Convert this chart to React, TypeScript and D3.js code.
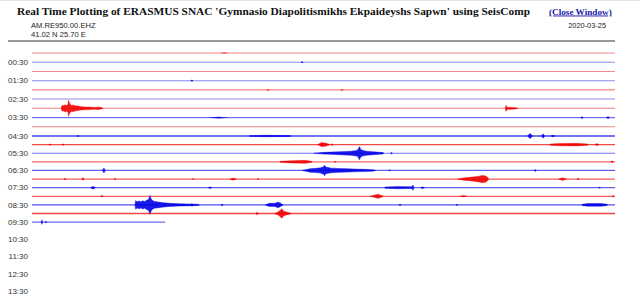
import React from "react";
import * as d3 from "d3";

// ---------- data ----------
const titleText =
  "Real Time Plotting of ERASMUS SNAC 'Gymnasio Diapolitismikhs Ekpaideyshs Sapwn' using SeisComp";
const closeText = "(Close Window)";
const stationCode = "AM.RE950.00.EHZ";
const stationCoords = "41.02 N 25.70 E";
const plotDate = "2020-03-25";

// hour labels and the half-hour row they sit on
const tickLabels = ["00:30", "01:30", "02:30", "03:30", "04:30", "05:30", "06:30", "07:30", "08:30", "09:30", "10:30", "11:30", "12:30", "13:30"];
const tickRows = [1, 3, 5, 7, 9, 11, 13, 15, 17, 19, 21, 23, 25, 27];

// 30-minute rows of data (row 0 = 00:00 ... row 19 = 09:30)
const rowMinutes = 30;
const rowEndMinute = [30, 30, 30, 30, 30, 30, 30, 30, 30, 30, 30, 30, 30, 30, 30, 30, 30, 30, 30, 6.85];
// background noise level per row (amplitude units)
const rowNoise = [0.7, 0.7, 0.7, 0.7, 0.75, 0.7, 0.8, 0.9, 0.75, 1.3, 1.25, 0.9, 1.0, 1.05, 1.1, 1.05, 1.05, 1.2, 1.3, 0.95];

// event envelopes per row: [minute, amplitude]
const rowEvents: [number, number][][][] = [
  [], [], [], [], [], [],
  [
    [[1.5, 0], [1.55, 3.2], [1.62, 2.6], [1.7, 3.8], [1.78, 3], [1.85, 4], [1.88, 8.5], [1.93, 5.5], [1.98, 4], [2.05, 3], [2.12, 3.6], [2.2, 2.8], [2.37, 2.4], [2.5, 1.8], [2.7, 1.5], [2.98, 1.3], [3.2, 0.9], [3.34, 1.1], [3.45, 1.3], [3.65, 0.3]],
    [[24.35, 0], [24.39, 3.2], [24.45, 1.2], [24.9, 0.6], [25.0, 0]],
  ],
  [],
  [],
  [[[11.2, 0.4], [12.0, 0.8], [13.3, 0.4]]],
  [
    [[14.7, 0], [14.9, 2.2], [15.1, 1.6], [15.3, 0.4]],
    [[26.66, 0.6], [27.2, 1.3], [28.0, 1.4], [28.6, 0.6]],
  ],
  [[[14.5, 0], [15.0, 0.9], [15.33, 1.2], [15.8, 1.5], [16.1, 1.8], [16.4, 2.2], [16.6, 2.6], [16.75, 3.2], [16.85, 7], [16.92, 4], [17.0, 3], [17.2, 2.2], [17.4, 1.8], [17.9, 1], [18.1, 0.4]]],
  [[[12.76, 0.5], [13.3, 1.1], [14.05, 1.6], [14.4, 0.5]]],
  [[[13.9, 0], [14.3, 1.8], [14.6, 2.2], [14.85, 2.8], [15.0, 4], [15.05, 5.5], [15.12, 3.6], [15.25, 3], [15.4, 2.4], [15.85, 2], [16.3, 1.7], [16.6, 1.4], [17.1, 1.2], [17.55, 0.8], [17.7, 0]]],
  [[[21.9, 0], [22.2, 1.2], [22.54, 1.8], [22.8, 2.5], [23.0, 3], [23.16, 3.8], [23.36, 3.2], [23.45, 1.6], [23.5, 0]]],
  [[[18.16, 0.6], [18.8, 1.1], [19.55, 1], [19.6, 2.8], [19.65, 0.6]]],
  [[[17.4, 0], [17.8, 2.2], [18.06, 0.4]]],
  [
    [[5.3, 0], [5.33, 4.5], [5.42, 3.2], [5.5, 4], [5.62, 3.4], [5.7, 4.4], [5.8, 3.6], [5.9, 4.8], [6.0, 6], [6.07, 10], [6.13, 6.5], [6.2, 4.5], [6.3, 3.6], [6.43, 3.2], [6.7, 2.4], [7.1, 1.6], [7.6, 1.2], [8.4, 0.8], [8.6, 0.4]],
    [[12.0, 0], [12.2, 1.6], [12.5, 1.8], [12.66, 3], [12.8, 1.6], [12.9, 0.4]],
    [[28.3, 0.6], [28.6, 1.5], [29.3, 1.4], [29.6, 0.6]],
  ],
  [[[12.5, 0], [12.7, 2], [12.86, 5], [12.95, 2.4], [13.3, 0.4]]],
  [],
];

// short blips per row: [minute, amplitude, duration in minutes]
const rowBlips: [number, number, number][][] = [
  [[9.9, 0.5, 0.5]],
  [[13.9, 1, 0.15]],
  [],
  [[8.23, 1.1, 0.15]],
  [[12.14, 1, 0.15], [15.95, 0.9, 0.15]],
  [],
  [],
  [[9.6, 0.9, 1.1], [28.3, 1.4, 0.15], [29.64, 1.4, 0.2]],
  [],
  [[2.37, 1.1, 0.15], [25.63, 3.2, 0.3], [26.3, 2.6, 0.2], [26.8, 1.4, 0.25]],
  [[0.93, 1.3, 0.15], [1.6, 1.3, 0.15], [15.44, 1.4, 0.12], [29.07, 1.5, 0.25]],
  [[18.0, 1.3, 0.12], [18.5, 1.3, 0.12]],
  [[15.6, 0.9, 0.15], [29.85, 1.3, 0.15]],
  [[3.7, 3, 0.2], [18.4, 0.9, 0.15], [25.9, 1.3, 0.15]],
  [[1.7, 1.3, 0.12], [2.62, 1.8, 0.15], [4.27, 1.3, 0.12], [8.29, 1.1, 0.12], [10.35, 1.5, 0.4], [11.63, 1.1, 0.12], [27.3, 1.7, 0.5], [28.1, 1.1, 0.15]],
  [[3.14, 1.8, 0.3], [9.16, 1.1, 0.25], [20.1, 1.3, 0.25], [29.2, 0.9, 0.15]],
  [[3.6, 1.3, 0.15], [22.2, 1, 0.5], [29.9, 1.3, 0.12]],
  [[8.23, 1.8, 0.15], [9.78, 1.3, 0.15], [18.94, 1.1, 0.15], [21.87, 1.3, 0.12]],
  [[11.58, 1.8, 0.15]],
  [[0.51, 3, 0.12], [0.72, 1.3, 0.12]],
];

// ---------- layout ----------
const W = 640;
const H = 301;
const RED = "#f00000";
const BLUE = "#0000e6";

const x = d3.scaleLinear().domain([0, rowMinutes]).range([32, 615]);
const rowY = d3.scaleLinear().domain([0, 9, 27]).range([53, 136, 291]);
const amp = d3.scaleLinear().domain([0, 10]).range([0, 9.5]);

export default function App() {
  const area = (base: number) =>
    d3
      .area<[number, number]>()
      .x((d) => x(d[0]))
      .y0((d) => base - amp(d[1]))
      .y1((d) => base + amp(d[1]))
      .curve(d3.curveLinear);

  const line = d3
    .line<number>()
    .x((d) => x(d))
    .y(() => 0);

  return (
    <svg
      width={W}
      height={H}
      style={{ position: "absolute", left: 0, top: 0, background: "#fff" }}
      xmlns="http://www.w3.org/2000/svg"
    >
      <rect x={0} y={0} width={W} height={H} fill="#fff" />
      <line x1={0} x2={W} y1={0.5} y2={0.5} stroke="#e4e4e4" />
      {/* header */}
      <text
        x={17}
        y={15}
        fontFamily="'Liberation Serif', 'Times New Roman', serif"
        fontWeight="bold"
        fontSize={11.2}
        fill="#111"
        textLength={513}
        lengthAdjust="spacingAndGlyphs"
      >
        {titleText}
      </text>
      <text
        x={549}
        y={14.5}
        fontFamily="'Liberation Serif', 'Times New Roman', serif"
        fontWeight="bold"
        fontSize={9.2}
        fill="#1a1aa6"
        textDecoration="underline"
      >
        {closeText}
      </text>
      <text x={31} y={27.5} fontFamily="Arial, 'Liberation Sans', sans-serif" fontSize={7.6} fill="#222">
        {stationCode}
      </text>
      <text x={31} y={37} fontFamily="Arial, 'Liberation Sans', sans-serif" fontSize={7.6} fill="#222">
        {stationCoords}
      </text>
      <text
        x={606}
        y={27.5}
        textAnchor="end"
        fontFamily="Arial, 'Liberation Sans', sans-serif"
        fontSize={7.4}
        fill="#222"
      >
        {plotDate}
      </text>
      <line x1={8} x2={615} y1={41} y2={41} stroke="#9a9a9a" strokeWidth={1.8} />

      {/* hour labels */}
      {tickLabels.map((t, k) => (
        <text
          key={t}
          x={28}
          y={rowY(tickRows[k])}
          dy="0.35em"
          textAnchor="end"
          fontFamily="Arial, 'Liberation Sans', sans-serif"
          fontSize={8}
          fill="#333"
        >
          {t}
        </text>
      ))}

      {/* traces */}
      {rowNoise.map((n, i) => {
        const base = rowY(i);
        const color = i % 2 === 0 ? RED : BLUE;
        const end = rowEndMinute[i];
        return (
          <g key={i}>
            <path
              d={line([0, end]) || ""}
              transform={`translate(0,${base})`}
              stroke={color}
              strokeOpacity={0.15 + n * 0.45}
              strokeWidth={0.6 + n * 0.6}
              fill="none"
            />
            {rowEvents[i].map((ev, j) => (
              <path key={"e" + j} d={area(base)(ev) || ""} fill={color} fillOpacity={0.9} stroke={color} strokeWidth={0.4} />
            ))}
            {rowBlips[i].map((b, j) => {
              const pts: [number, number][] = [
                [b[0] - b[2] / 2, 0],
                [b[0], b[1]],
                [b[0] + b[2] / 2, 0],
              ];
              return <path key={"b" + j} d={area(base)(pts) || ""} fill={color} fillOpacity={0.85} stroke="none" />;
            })}
          </g>
        );
      })}
    </svg>
  );
}
